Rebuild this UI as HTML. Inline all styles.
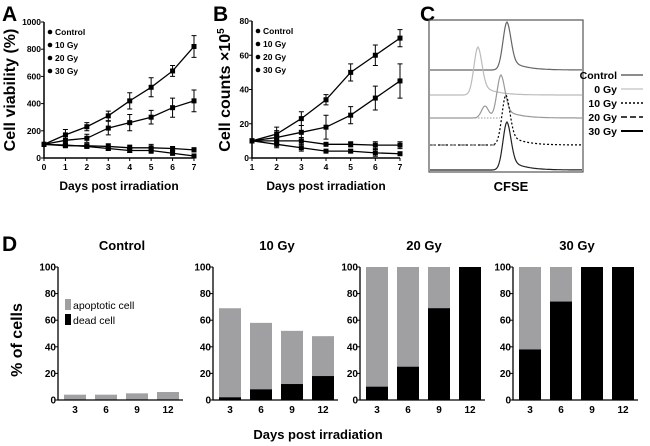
<!DOCTYPE html>
<html><head><meta charset="utf-8"><style>
html,body{margin:0;padding:0;background:#fff;}
svg{display:block;font-family:"Liberation Sans",Arial,sans-serif;font-weight:bold;}
</style></head><body>
<svg id="fig" width="650" height="446" viewBox="0 0 650 446">
  <text x="2" y="21" font-size="21">A</text>
  <text x="213" y="21" font-size="21">B</text>
  <text x="420" y="21" font-size="21">C</text>
  <text x="2" y="251" font-size="21">D</text>
  <g id="ga"></g>
  <g id="gb"></g>
  <g id="gc"></g>
  <g id="gd"></g>
  <text x="15" y="90" font-size="16" text-anchor="middle" transform="rotate(-90 15 90)">Cell viability (%)</text>
  <text x="119" y="190" font-size="12" text-anchor="middle">Days post irradiation</text>
  <text x="230" y="90" font-size="16" text-anchor="middle" transform="rotate(-90 230 90)">Cell counts ×10<tspan dy="-6" font-size="10">5</tspan></text>
  <text x="326" y="190" font-size="12" text-anchor="middle">Days post irradiation</text>
  <text x="511" y="191" font-size="13" text-anchor="middle">CFSE</text>
  <text x="22" y="340" font-size="16" text-anchor="middle" transform="rotate(-90 22 340)">% of cells</text>
  <text x="318" y="439" font-size="13" text-anchor="middle">Days post irradiation</text>
</svg>
<script>
const NS="http://www.w3.org/2000/svg";
// Panel A data
const aDays=[0,1,2,3,4,5,6,7];
const aTicksY=[0,200,400,600,800,1000];
const aS10=[100,170,230,310,420,520,640,820];
const aE10=[0,40,30,35,60,70,40,80];
const aCtrl=[100,130,145,220,260,300,370,420];
const aECtrl=[0,30,30,50,60,50,70,80];
const aS20=[100,90,90,85,75,75,70,60];
const aE20=[0,10,15,20,20,25,15,15];
const aS30=[100,95,85,70,55,55,35,15];
const aE30=[0,10,10,15,15,20,15,10];
// Panel B data
const bDays=[1,2,3,4,5,6,7];
const bTicksY=[0,20,40,60,80];
const bS10=[10,14,23,34,50,60,70];
const bE10=[0,4,4,3,5,6,5];
const bCtrl=[10,12,15,18,25,35,45];
const bECtrl=[0,4,4,7,5,7,10];
const bS20=[10,10,10,8,8,7.5,7.5];
const bE20=[0,2,2,1,1.5,2,2];
const bS30=[10,8,6,4,4,3,2.5];
const bE30=[0,2,2,1,1,2,1];
// Panel D data
const dGroups=["Control","10 Gy","20 Gy","30 Gy"];
const dDays=[3,6,9,12];
const dTotal=[[4,4,5,6],[69,58,52,48],[100,100,100,100],[100,100,100,100]];
const dDead=[[0,0,0,0],[2,8,12,18],[10,25,69,100],[38,74,100,100]];
const dTicks=[0,20,40,60,80,100];
const legendLabels=["Control","10 Gy","20 Gy","30 Gy"];
const cLabels=["Control","0 Gy","10 Gy","20 Gy","30 Gy"];

function mk(tag,attrs,parent){const e=document.createElementNS(NS,tag);for(const k in attrs)e.setAttribute(k,attrs[k]);parent.appendChild(e);return e;}

function lineChart(g,xs,ticks,series,errs,x0,x1,y0,y1,xmin,xmax,ymax,prefix){
  const sx=v=>x0+(v-xmin)/(xmax-xmin)*(x1-x0);
  const sy=v=>y0-v/ymax*(y0-y1);
  let ax=mk('path',{d:`M${x0} ${y1}V${y0}H${x1}`,stroke:'#000','stroke-width':1.5,fill:'none'},g);
  
  
  ticks.forEach(t=>{
    mk('line',{x1:x0-3,x2:x0,y1:sy(t),y2:sy(t),stroke:'#000'},g);
    let tx=mk('text',{x:x0-3,y:sy(t)+3,'font-size':8.5,'text-anchor':'end'},g);tx.textContent=t;
    
    
  });
  xs.forEach(d=>{
    mk('line',{x1:sx(d),x2:sx(d),y1:y0,y2:y0+3,stroke:'#000'},g);
    let tx=mk('text',{x:sx(d),y:y0+12,'font-size':8.5,'text-anchor':'middle'},g);tx.textContent=d;
    
    
  });
  series.forEach((s,i)=>{
    const p=s.map((v,j)=>(j?'L':'M')+sx(xs[j])+' '+sy(v)).join('');
    let l=mk('path',{d:p,stroke:'#000','stroke-width':1.3,fill:'none'},g);
    
    
    s.forEach((v,j)=>{
      const e=errs[i][j],x=sx(xs[j]);
      if(e>0){mk('path',{d:`M${x} ${sy(v-e)}V${sy(v+e)}M${x-2.5} ${sy(v-e)}h5M${x-2.5} ${sy(v+e)}h5`,stroke:'#000','stroke-width':1},g);}
      let m=mk('rect',{x:x-2.5,y:sy(v)-2.5,width:5,height:5,fill:'#000'},g);
      
      
    });
  });
  legendLabels.forEach((t,i)=>{
    const ly=y1+13+i*13;
    mk('circle',{cx:x0+6,cy:ly-3,r:2.3,fill:'#000'},g);
    let tx=mk('text',{x:x0+11,y:ly,'font-size':8.5},g);tx.textContent=t;
    
    
  });
}
lineChart(document.getElementById('ga'),aDays,aTicksY,[aS10,aCtrl,aS20,aS30],[aE10,aECtrl,aE20,aE30],44,194,158,22,0,7,1000,'a');
lineChart(document.getElementById('gb'),bDays,bTicksY,[bS10,bCtrl,bS20,bS30],[bE10,bECtrl,bE20,bE30],252,400,158,21,1,7,80,'b');

// Panel C histograms
(function(){
  const g=document.getElementById('gc');
  let box=mk('rect',{x:429,y:20,width:154,height:152,fill:'none',stroke:'#555','stroke-width':1.2},g);
  
  
  function peak(base,cx,h,w,stroke,dash,extra){
    let d=`M430 ${base}`;
    for(let x=430;x<=582;x+=1){
      const dx=x-cx;
      let y=dx<0?h*Math.exp(-dx*dx/(2*w*w)):h*(0.75*Math.exp(-dx*dx/(2*w*w))+0.25*Math.exp(-dx/14));
      if(extra){const dx2=x-extra[0];y+=extra[1]*Math.exp(-dx2*dx2/(2*extra[2]*extra[2]));}
      d+=`L${x} ${(base-y).toFixed(1)}`;
    }
    let p=mk('path',{d:d,fill:'none',stroke:stroke,'stroke-width':1.2},g);
    if(dash)p.setAttribute('stroke-dasharray',dash);
    
    
  }
  peak(70,507,48,4,'#666','');
  peak(95,478,48,4,'#bbb','');
  peak(118,501,43,4,'#999','',[485,12,3.5]);
  mk('line',{x1:430,x2:500,y1:118,y2:118,stroke:'#999','stroke-dasharray':'1.5 1.5'},g);
  peak(145,506,50,4,'#000','2 2');
  mk('line',{x1:430,x2:495,y1:145,y2:145,stroke:'#555','stroke-dasharray':'6 4'},g);
  peak(170,507,48,4,'#222','');
  const styles=[['#666',''],['#ccc',''],['#000','2 2'],['#000','6 3'],['#000','']];
  cLabels.forEach((t,i)=>{
    const y=79+i*14;
    let tx=mk('text',{x:617,y:y,'font-size':10.5,'text-anchor':'end'},g);tx.textContent=t;
    
    
    mk('line',{x1:621,x2:643,y1:y-4,y2:y-4,stroke:styles[i][0],'stroke-width':i==4?2:1.6,'stroke-dasharray':styles[i][1]},g);
  });
})();

// Panel D bars
(function(){
  const g=document.getElementById('gd');
  const axX=[58,213,360,513], y0=400, y1=267, bw=22, gap=31;
  const sy=v=>y0-v/100*(y0-y1);
  dGroups.forEach((name,k)=>{
    const x0=axX[k];
    let t=mk('text',{x:x0+64,y:250,'font-size':13,'text-anchor':'middle'},g);t.textContent=name;
    
    
    dDays.forEach((d,j)=>{
      const cx=x0+17+j*gap;
      let b1=mk('rect',{x:cx-bw/2,y:sy(dTotal[k][j]),width:bw,height:y0-sy(dTotal[k][j]),fill:'#a0a0a3'},g);
      
      
      if(dDead[k][j]>0){
        let b2=mk('rect',{x:cx-bw/2,y:sy(dDead[k][j]),width:bw,height:y0-sy(dDead[k][j]),fill:'#000'},g);
        
        
      }
      let tx=mk('text',{x:cx,y:y0+13,'font-size':10,'text-anchor':'middle'},g);tx.textContent=d;
      
      
    });
    let ax=mk('path',{d:`M${x0} ${y1}V${y0}H${x0+125}`,stroke:'#000','stroke-width':1.3,fill:'none'},g);
    
    
    dTicks.forEach(v=>{
      mk('line',{x1:x0-3,x2:x0,y1:sy(v),y2:sy(v),stroke:'#000'},g);
      let tx=mk('text',{x:x0-2,y:sy(v)+3.5,'font-size':10,'text-anchor':'end'},g);tx.textContent=v;
      
      
    });
  });
  const lg=[['#a0a0a3','apoptotic cell'],['#000','dead cell']];
  lg.forEach((l,i)=>{
    mk('rect',{x:65,y:299+i*15,width:6,height:11,fill:l[0]},g);
    let tx=mk('text',{x:73,y:309+i*15,'font-size':10.5,'font-weight':'normal'},g);tx.textContent=l[1];
    
    
  });
})();
</script>
</body></html>
